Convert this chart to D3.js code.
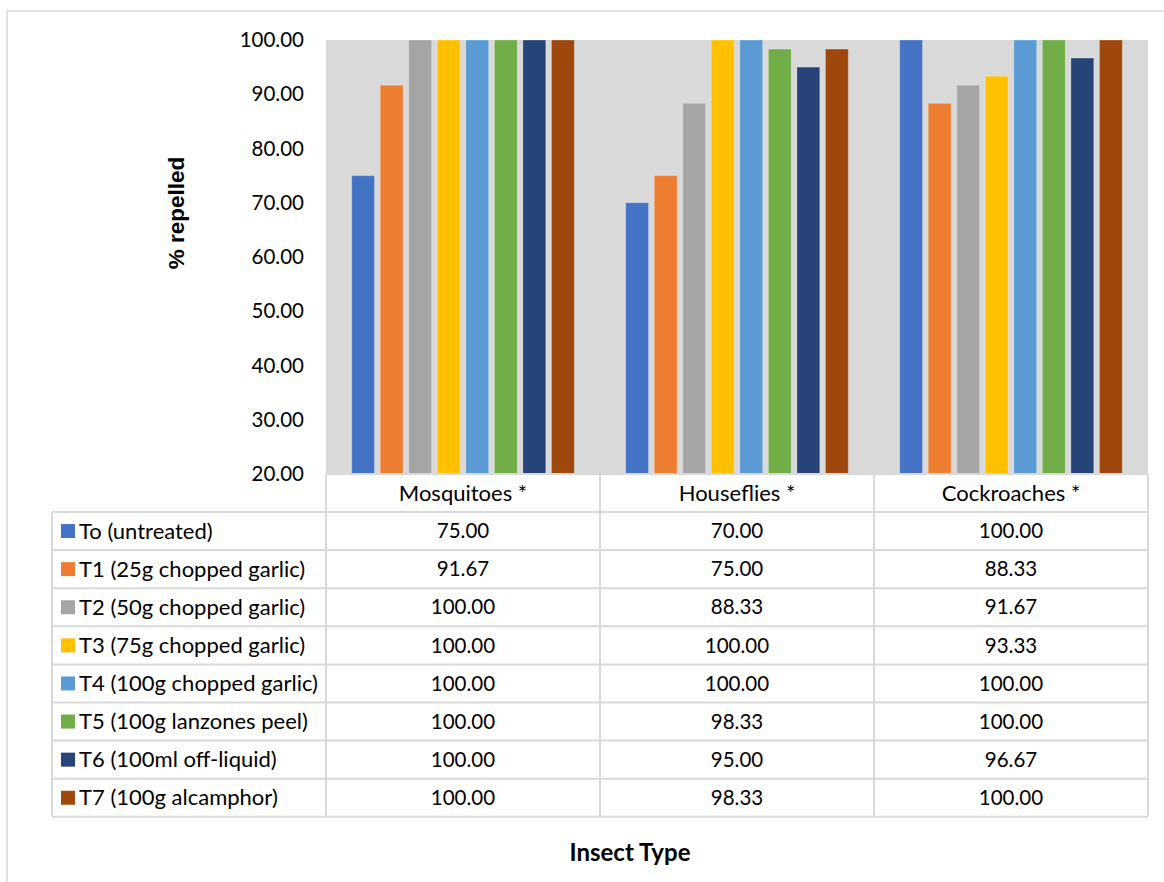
<!DOCTYPE html>
<html><head><meta charset="utf-8">
<script src="https://cdn.jsdelivr.net/npm/d3@7"></script>
<style>body{margin:0;background:#fff}svg{display:block}</style>
</head><body><div id="c"></div>
<script>
const categories = ["Mosquitoes *", "Houseflies *", "Cockroaches *"];
const seriesNames = ["To (untreated)", "T1 (25g chopped garlic)", "T2 (50g chopped garlic)", "T3 (75g chopped garlic)", "T4 (100g chopped garlic)", "T5 (100g lanzones peel)", "T6 (100ml off-liquid)", "T7 (100g alcamphor)"];
const seriesColors = ["#4472c4", "#ed7d31", "#a5a5a5", "#ffc000", "#5b9bd5", "#70ad47", "#264478", "#9e480e"];
const To = [75.00, 70.00, 100.00];
const T1 = [91.67, 75.00, 88.33];
const T2 = [100.00, 88.33, 91.67];
const T3 = [100.00, 100.00, 93.33];
const T4 = [100.00, 100.00, 100.00];
const T5 = [100.00, 98.33, 100.00];
const T6 = [100.00, 95.00, 96.67];
const T7 = [100.00, 98.33, 100.00];
const seriesValues = [To, T1, T2, T3, T4, T5, T6, T7];
const yTicks = [20, 30, 40, 50, 60, 70, 80, 90, 100];
const yTitle = "% repelled";
const xTitle = "Insect Type";

const W = 1164, H = 882;
const svg = d3.select("#c").append("svg").attr("width", W).attr("height", H);
const font = "Lato, 'Open Sans', sans-serif";
const numSize = 20.5, labSize = 22;

// outer chart border
svg.append("rect").attr("x", 7).attr("y", 11).attr("width", W + 20).attr("height", H + 20)
  .attr("fill", "#fff").attr("stroke", "#d9d9d9").attr("stroke-width", 1.5);

const plotL = 326, plotR = 1148, plotT = 40, plotB = 474;
const x = d3.scaleBand().domain(categories).range([plotL, plotR]);
const y = d3.scaleLinear().domain([20, 100]).range([plotB, plotT]);
const xs = d3.scaleBand().domain(seriesNames).range([0, x.bandwidth()]).paddingInner(0.2).paddingOuter(0.9);

svg.append("rect").attr("x", plotL).attr("y", plotT).attr("width", plotR - plotL).attr("height", plotB - plotT).attr("fill", "#d9d9d9");

const g = svg.append("g");
seriesNames.forEach((s, si) => {
  g.selectAll(null).data(seriesValues[si]).enter().append("rect")
    .attr("x", (d, i) => x(categories[i]) + xs(s))
    .attr("y", d => y(d))
    .attr("width", xs.bandwidth())
    .attr("height", d => y(20) - y(d))
    .attr("fill", seriesColors[si])
    .attr("stroke", "rgba(255,255,255,0.25)").attr("stroke-width", 1);
});

// y axis
const yAxis = d3.axisLeft(y).tickValues(yTicks).tickFormat(d3.format(".2f")).tickSize(0).tickPadding(22);
const ya = svg.append("g").attr("transform", `translate(${plotL},0)`).call(yAxis);
ya.select(".domain").remove();
ya.selectAll("text").attr("font-family", font).attr("font-size", numSize).attr("fill", "#000");

svg.append("text").attr("transform", "translate(184,213) rotate(-90)").attr("text-anchor", "middle")
  .attr("font-family", "'Liberation Sans', Arial, sans-serif").attr("font-weight", "bold").attr("font-size", 22.5)
  .text(yTitle);

// data table
const tblL = 52, rowH0 = plotB, headerH = 38, rowH = 38.1;
const lc = "#d9d9d9";
const t = svg.append("g");
const rowTop = i => rowH0 + headerH + i * rowH;
const tblB = rowTop(seriesNames.length);
t.append("line").attr("x1", plotL).attr("x2", plotR).attr("y1", rowH0).attr("y2", rowH0).attr("stroke", lc).attr("stroke-width", 2);
for (let i = 0; i <= seriesNames.length; i++) {
  t.append("line").attr("x1", tblL).attr("x2", plotR).attr("y1", rowTop(i)).attr("y2", rowTop(i)).attr("stroke", lc).attr("stroke-width", 2);
}
t.append("line").attr("x1", tblL).attr("x2", tblL).attr("y1", rowTop(0)).attr("y2", tblB).attr("stroke", lc).attr("stroke-width", 2);
[plotL, ...categories.map(c => x(c) + x.bandwidth())].forEach(xx => {
  t.append("line").attr("x1", xx).attr("x2", xx).attr("y1", rowH0).attr("y2", tblB).attr("stroke", lc).attr("stroke-width", 2);
});
categories.forEach(c => {
  t.append("text").attr("x", x(c) + x.bandwidth() / 2).attr("y", rowH0 + headerH / 2).attr("dy", "0.35em")
    .attr("text-anchor", "middle").attr("font-family", font).attr("font-size", labSize).text(c);
});
seriesNames.forEach((s, si) => {
  const cy = rowTop(si) + rowH / 2;
  t.append("rect").attr("x", 61).attr("y", cy - 7).attr("width", 14).attr("height", 14).attr("fill", seriesColors[si]);
  t.append("text").attr("x", 79).attr("y", cy).attr("dy", "0.35em").attr("font-family", font).attr("font-size", labSize).text(s);
  seriesValues[si].forEach((v, i) => {
    t.append("text").attr("x", x(categories[i]) + x.bandwidth() / 2).attr("y", cy).attr("dy", "0.35em")
      .attr("text-anchor", "middle").attr("font-family", font).attr("font-size", numSize).text(d3.format(".2f")(v));
  });
});

svg.append("text").attr("x", 630).attr("y", 853).attr("dy", "0.35em").attr("text-anchor", "middle")
  .attr("font-family", font).attr("font-weight", "bold").attr("font-size", 24).text(xTitle);
</script></body></html>
